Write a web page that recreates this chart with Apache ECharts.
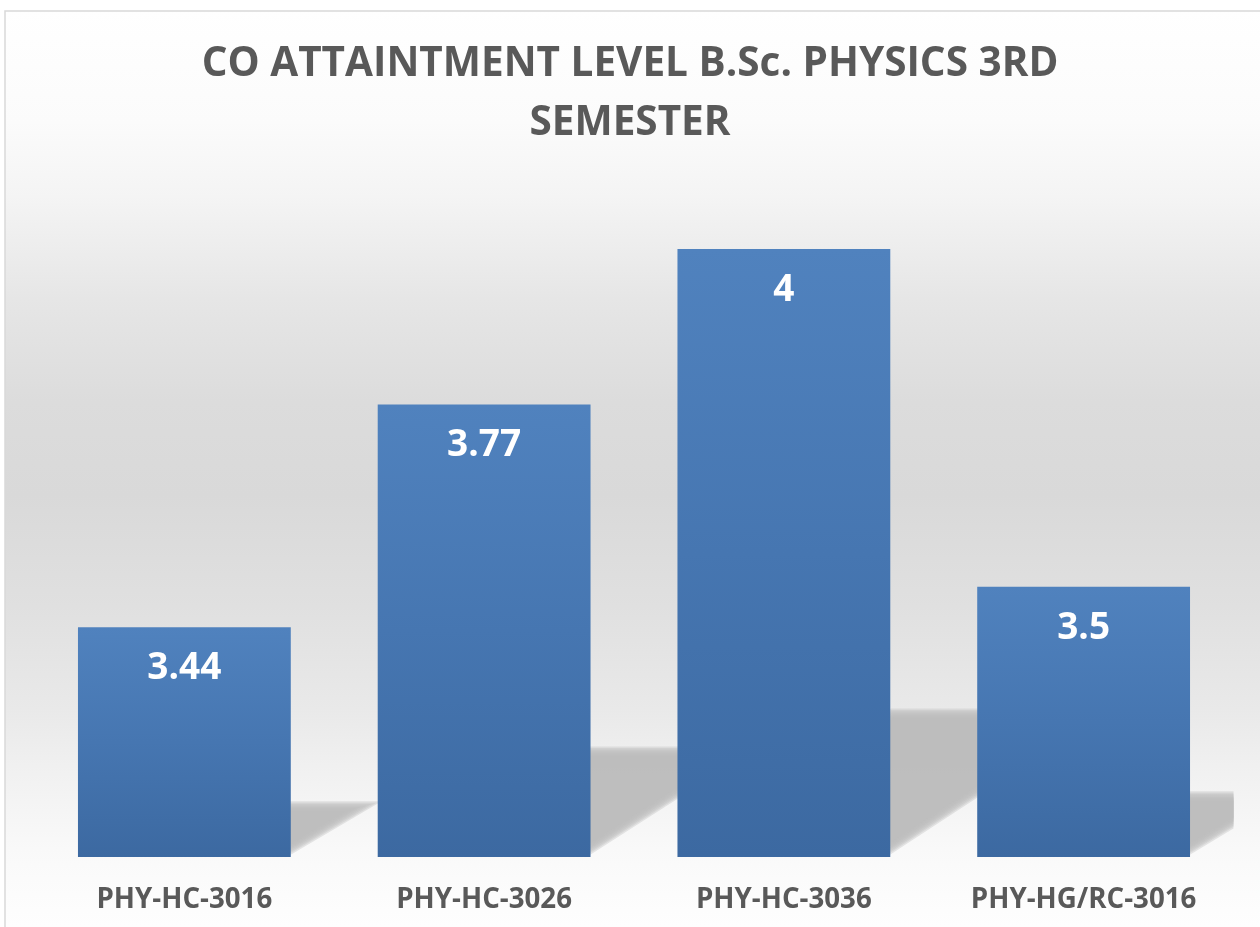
<!DOCTYPE html>
<html>
<head>
<meta charset="utf-8">
<script src="https://cdn.jsdelivr.net/npm/echarts@6/dist/echarts.min.js"></script>
<style>html,body{margin:0;padding:0;background:#fff}#c{width:1260px;height:927px}</style>
</head>
<body>
<div id="c"></div>
<script>
const titleText = 'CO ATTAINTMENT LEVEL B.Sc. PHYSICS 3RD\nSEMESTER';
const categories = ['PHY-HC-3016', 'PHY-HC-3026', 'PHY-HC-3036', 'PHY-HG/RC-3016'];
const values = [3.44, 3.77, 4, 3.5];
const axisMin = 3.1;
const axisMax = 4.1;

const chart = echarts.init(document.getElementById('c'));
const BAR_FRAC = 0.71;

function offsetPoly(pts, e) {
  let area = 0;
  for (let i = 0; i < pts.length; i++) {
    const a = pts[i], b = pts[(i + 1) % pts.length];
    area += a[0] * b[1] - b[0] * a[1];
  }
  const s = area > 0 ? 1 : -1;
  const n = pts.length;
  const lines = [];
  for (let i = 0; i < n; i++) {
    const a = pts[i], b = pts[(i + 1) % n];
    const dx = b[0] - a[0], dy = b[1] - a[1];
    const len = Math.hypot(dx, dy);
    const nx = s * dy / len, ny = -s * dx / len;
    lines.push({ p: [a[0] + nx * e, a[1] + ny * e], d: [dx, dy] });
  }
  const out = [];
  for (let i = 0; i < n; i++) {
    const l1 = lines[(i - 1 + n) % n], l2 = lines[i];
    const det = l1.d[0] * l2.d[1] - l1.d[1] * l2.d[0];
    const t = ((l2.p[0] - l1.p[0]) * l2.d[1] - (l2.p[1] - l1.p[1]) * l2.d[0]) / det;
    out.push([l1.p[0] + l1.d[0] * t, l1.p[1] + l1.d[1] * t]);
  }
  return out;
}

// keep the part of the polygon where f(p) >= 0 (f linear)
function clipHalf(pts, f) {
  const out = [];
  for (let i = 0; i < pts.length; i++) {
    const a = pts[i], b = pts[(i + 1) % pts.length];
    const fa = f(a), fb = f(b);
    if (fa >= 0) out.push(a);
    if ((fa >= 0) !== (fb >= 0)) {
      const t = fa / (fa - fb);
      out.push([a[0] + t * (b[0] - a[0]), a[1] + t * (b[1] - a[1])]);
    }
  }
  return out;
}

function shadowItem(params, api) {
  const v = api.value(1);
  const idx = api.value(0);
  const top = api.coord([idx, v]);
  const base = api.coord([idx, axisMin]);
  const bw = api.size([1, 0])[0] * BAR_FRAC;
  const L = base[0] - bw / 2, R = base[0] + bw / 2;
  const h = base[1] - top[1];
  const sh = 0.245 * h;
  const d = 1.44 * sh;
  const xmax = params.coordSys.x + params.coordSys.width;
  const yb = base[1] - 4;
  const poly = [[L, yb], [R - 4, yb], [R + d - 3, base[1] - sh + 4], [L + d, base[1] - sh + 4]];
  const children = [];
  const N = 8;
  for (let k = 0; k < N; k++) {
    const e = 3.5 - k * 1.4;
    let p = offsetPoly(poly, e);
    p = clipHalf(p, q => xmax - q[0]);
    p = clipHalf(p, q => q[0] - (L + 2));
    p = clipHalf(p, q => base[1] - q[1]);
    if (p.length < 3) continue;
    children.push({
      type: 'polygon',
      shape: { points: p },
      style: { fill: 'rgba(188,188,188,0.36)' }
    });
  }
  return { type: 'group', children: children };
}

chart.setOption({
  animation: false,
  backgroundColor: '#ffffff',
  graphic: [{
    type: 'rect',
    z: -10,
    silent: true,
    shape: { x: 5, y: 11, width: 1270, height: 930 },
    style: {
      stroke: '#d9d9d9', lineWidth: 1.5,
      fill: new echarts.graphic.LinearGradient(0, 0, 0, 1, [
        { offset: 0, color: '#ffffff' },
        { offset: 0.12, color: '#fbfbfb' },
        { offset: 0.2, color: '#f4f4f4' },
        { offset: 0.31, color: '#e6e6e6' },
        { offset: 0.42, color: '#dcdcdc' },
        { offset: 0.52, color: '#d9d9d9' },
        { offset: 0.64, color: '#e0e0e0' },
        { offset: 0.75, color: '#e9e9e9' },
        { offset: 0.82, color: '#f1f1f1' },
        { offset: 0.9, color: '#f9f9f9' },
        { offset: 1, color: '#ffffff' }
      ])
    }
  }],
  title: {
    text: titleText,
    left: 'center',
    top: 30,
    textStyle: {
      fontFamily: 'Open Sans',
      fontWeight: 'bold',
      fontSize: 40.5,
      lineHeight: 59,
      color: '#595959'
    }
  },
  grid: { left: 34.5, right: 26.5, top: 181.5, bottom: 70, containLabel: false },
  xAxis: {
    type: 'category',
    data: categories,
    axisLine: { show: false },
    axisTick: { show: false },
    axisLabel: {
      margin: 29,
      fontFamily: 'Open Sans',
      fontWeight: 'bold',
      fontSize: 27.7,
      color: '#595959'
    }
  },
  yAxis: {
    type: 'value',
    min: axisMin,
    max: axisMax,
    show: false,
    splitLine: { show: false }
  },
  series: [
    {
      type: 'custom',
      z: 1,
      silent: true,
      renderItem: shadowItem,
      data: values.map((v, i) => [i, v])
    },
    {
      type: 'bar',
      z: 5,
      data: values,
      barWidth: (BAR_FRAC * 100) + '%',
      itemStyle: {
        color: new echarts.graphic.LinearGradient(0, 0, 0, 1, [
          { offset: 0, color: '#5082be' },
          { offset: 0.5, color: '#4676b1' },
          { offset: 1, color: '#3c69a1' }
        ])
      },
      label: {
        show: true,
        position: 'insideTop',
        distance: 23,
        fontFamily: 'Open Sans',
        fontWeight: 'bold',
        fontSize: 37,
        color: '#ffffff'
      }
    }
  ]
});
</script>
</body>
</html>
